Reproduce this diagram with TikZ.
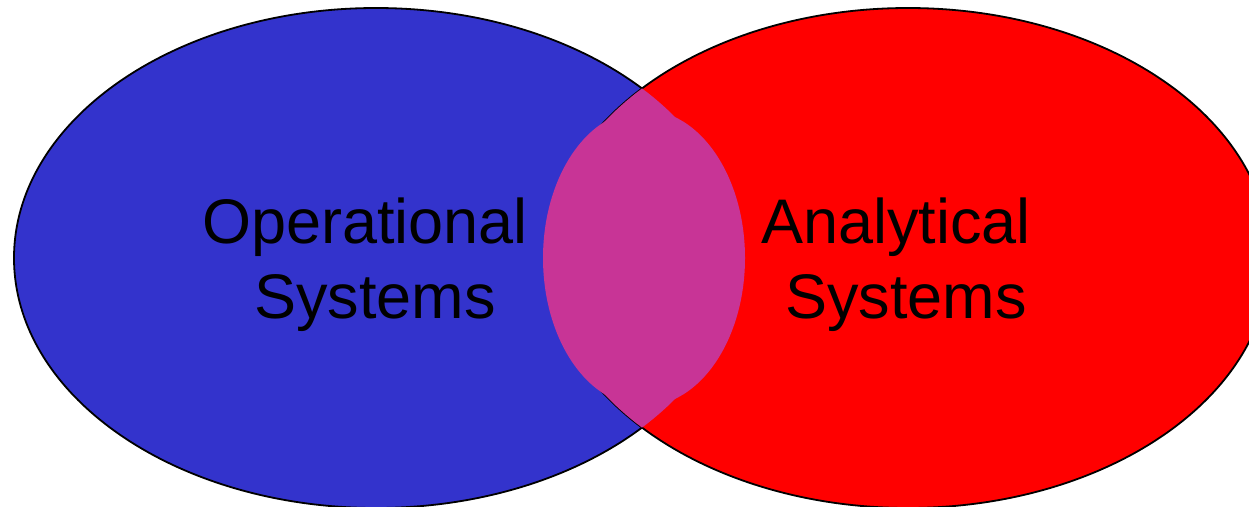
\documentclass[tikz,border=0pt]{standalone}
\usepackage{xcolor}
\usepackage{fontspec}
\setmainfont{Liberation Sans}
\usepackage{tikz}
\usetikzlibrary{positioning}

\definecolor{opblue}{RGB}{51,51,204}
\definecolor{anred}{RGB}{255,0,0}
\definecolor{overlap}{RGB}{200,52,150}

\begin{document}
\begin{tikzpicture}[
  x=1pt, y=-1pt,
  venn/.style={draw=black, line width=1.8pt},
  sysname/.style={font=\fontsize{63}{75}\selectfont, align=center, inner sep=0pt}
]
\useasboundingbox (0,0) rectangle (1249,506);
\clip (0,0) rectangle (1249,506);

\coordinate (opc) at (376,258);
\coordinate (anc) at (908,258);
\coordinate (mid) at (644,258);

\filldraw[venn, fill=opblue] (opc) ellipse [x radius=362pt, y radius=250pt];
\filldraw[venn, fill=anred] (anc) ellipse [x radius=362pt, y radius=250pt];

\begin{scope}
  \clip (opc) ellipse [x radius=362pt, y radius=250pt];
  \fill[overlap] (anc) ellipse [x radius=362pt, y radius=250pt];
\end{scope}
\fill[overlap] (mid) ellipse [x radius=101pt, y radius=148pt];

\node[sysname] (ops) at (365,265) {Operational\\\hspace*{20pt}Systems};
\node[sysname] (ana) at (896,265) {Analytical\\\hspace*{20pt}Systems};
\end{tikzpicture}
\end{document}
